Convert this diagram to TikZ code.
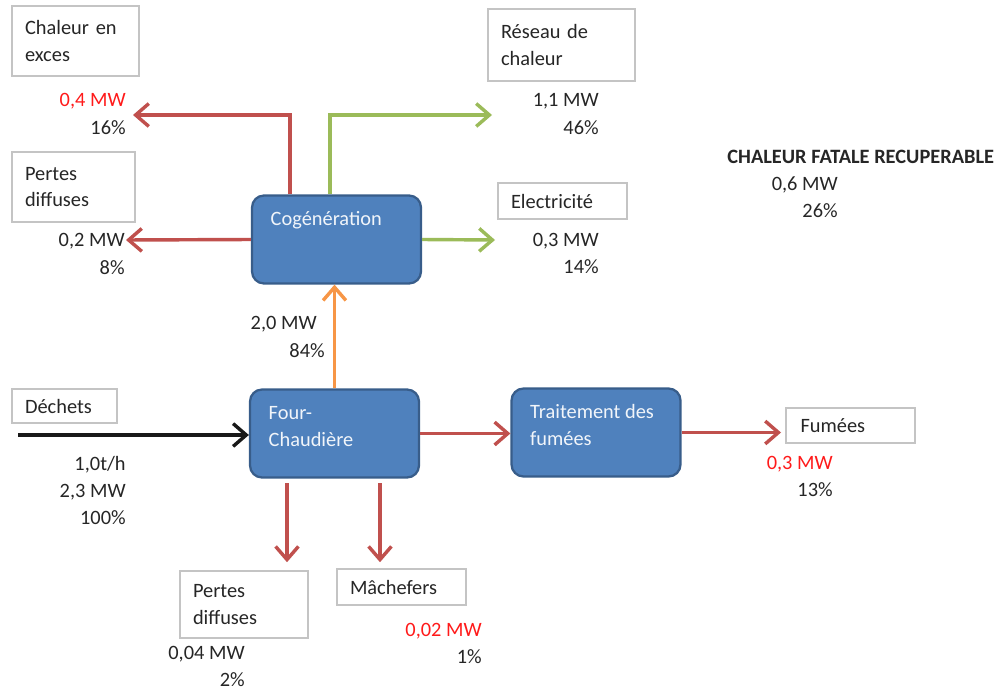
\documentclass[tikz,border=0pt]{standalone}
\usepackage{fontspec}
\setmainfont{Carlito}
\usetikzlibrary{arrows.meta}

\definecolor{procblue}{HTML}{4F81BD}
\definecolor{procedge}{HTML}{385D8A}
\definecolor{lossred}{HTML}{C0504D}
\definecolor{usegreen}{HTML}{9BBB59}
\definecolor{heatorange}{HTML}{F79646}
\definecolor{valred}{HTML}{FF1A1A}
\definecolor{boxgray}{HTML}{C4C4C4}
\definecolor{txtgray}{HTML}{262626}

\tikzset{
  outbox/.style={draw=boxgray, line width=0.9pt, fill=white, align=left, inner xsep=0.26cm, inner ysep=0pt, text=txtgray},
  procbox/.style={draw=procedge, line width=1.3pt, fill=procblue, rounded corners=0.24cm, minimum width=3.38cm, minimum height=1.76cm},
  proclabel/.style={anchor=north west, inner sep=0pt, align=left, text=white!92!procblue},
  value/.style={anchor=east, inner sep=0pt, align=right, text=txtgray, font=\fontsize{11.6}{15.6}\selectfont},
  flow/.style={line width=1.95pt, -{Straight Barb[length=7.5pt,width=13pt]}},
  lossflow/.style={flow, draw=lossred},
  useflow/.style={flow, draw=usegreen},
  heatflow/.style={flow, draw=heatorange},
  inflow/.style={flow, draw=black!90}
}

\begin{document}
\begin{tikzpicture}[x=0.02cm, y=-0.02cm, font=\fontsize{11.6}{15}\selectfont]
\useasboundingbox (0,0) rectangle (1006,692);

% Output boxes
\node[outbox, text width=2.02cm, minimum height=1.4cm] (exces) at (75.5,41) {Chaleur en\\exces};
\node[outbox, text width=1.94cm, minimum height=1.4cm] (diffhaut) at (73.5,187) {Pertes\\diffuses};
\node[outbox, text width=2.42cm, minimum height=1.44cm] (reseau) at (561.5,45) {Réseau de\\chaleur};
\node[outbox, text width=2.06cm, minimum height=0.72cm] (elec) at (562.5,201) {Electricité};
\node[outbox, text width=1.58cm, minimum height=0.68cm] (dechets) at (64.5,406) {Déchets};
\node[outbox, text width=2.0cm, minimum height=0.7cm, inner xsep=0.29cm] (fumees) at (850.5,425.5) {Fumées};
\node[outbox, text width=2.04cm, minimum height=1.34cm] (diffbas) at (244,604.5) {Pertes\\diffuses};
\node[outbox, text width=2.06cm, minimum height=0.72cm] (mach) at (401.5,587) {Mâchefers};

% Flow ends
\coordinate (dechsrc) at (18,435);
\coordinate (fumsink) at (781,433);
\coordinate (diffsink) at (126,240);
\coordinate (elecsink) at (495,240);
\coordinate (excessink) at (133,115);
\coordinate (reseausink) at (492,115);
\coordinate (lossout) at (287,483);
\coordinate (ashout) at (380,483);

% Process boxes
\node[procbox] (cogen) at (336.5,239.5) {};
\node[procbox] (four) at (334.5,433.5) {};
\node[procbox] (treat) at (596,432.5) {};
\node[proclabel] (cogentxt) at ([shift={(19.5,12.5)}]cogen.north west) {\strut Cogénération};
\node[proclabel] (fourtxt) at ([shift={(19.5,12.5)}]four.north west) {\strut Four-\\Chaudière};
\node[proclabel] (treattxt) at ([shift={(19.5,12.5)}]treat.north west) {\strut Traitement des\\fumées};

% Flows
\draw[inflow] (dechsrc) -- (dechsrc -| four.west);
\draw[heatflow] (four.north) -- (four.north |- cogen.south);
\draw[lossflow] (four.east) -- (four.east -| treat.west);
\draw[lossflow] (treat.east) -- (treat.east -| fumsink);
\draw[lossflow, shorten >=0.16cm] (lossout) -- (lossout |- diffbas.north);
\draw[lossflow, shorten >=0.12cm] (ashout) -- (ashout |- mach.north);
\draw[lossflow] (cogen.west) -- (diffsink);
\draw[useflow] (cogen.east) -- (elecsink);
\draw[lossflow] ([xshift=-0.93cm]cogen.north) |- (excessink);
\draw[useflow] ([xshift=-0.13cm]cogen.north) |- (reseausink);

% Values
\node[value] (excesval) at (126,114) {\textcolor{valred}{0,4 MW}\\16\%};
\node[value] (diffhval) at (125,254) {0,2 MW\\8\%};
\node[value] (reseauval) at (599,114) {1,1 MW\\46\%};
\node[value] (elecval) at (599,253.5) {0,3 MW\\14\%};
\node[value] (cogenval) at (325,337) {2,0 MW\kern0.16cm\\84\%};
\node[value] (dechval) at (126,490.5) {1,0t/h\\2,3 MW\\100\%};
\node[value] (fumval) at (833,476.5) {\textcolor{valred}{0,3 MW}\\13\%};
\node[value] (diffbval) at (245,666.5) {0,04 MW\\2\%};
\node[value] (machval) at (482,643.5) {\textcolor{valred}{0,02 MW}\\1\%};
\node[anchor=west, inner sep=0pt, text=txtgray, font=\fontsize{11.6}{15}\selectfont\bfseries] (fataltitle) at (727,157) {CHALEUR FATALE RECUPERABLE};
\node[value] (fatalval) at (838,197.5) {0,6 MW\\26\%};
\end{tikzpicture}
\end{document}
